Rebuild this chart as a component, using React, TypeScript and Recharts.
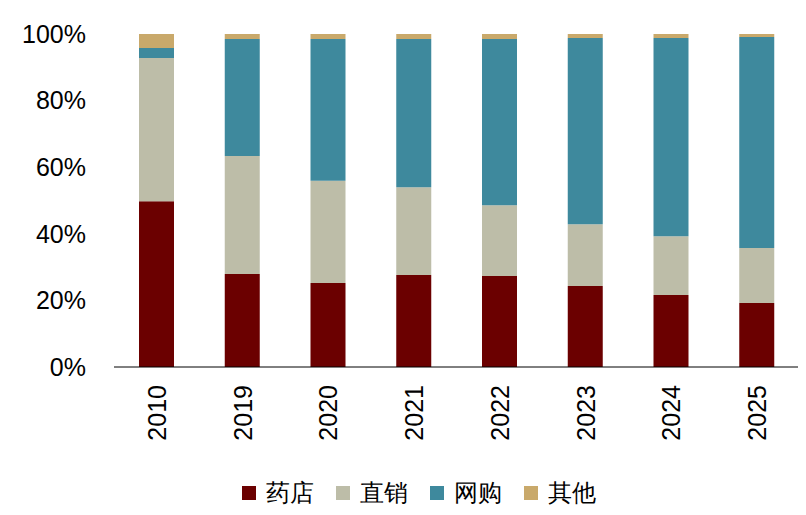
import { BarChart, Bar, XAxis, YAxis, Legend } from "recharts";

const years = ["2010", "2019", "2020", "2021", "2022", "2023", "2024", "2025"];
const pharmacy = [49.8, 27.9, 25.2, 27.6, 27.3, 24.3, 21.6, 19.2];
const direct = [43.0, 35.5, 30.7, 26.4, 21.3, 18.6, 17.7, 16.5];
const online = [3.0, 35.1, 42.6, 44.5, 49.9, 55.9, 59.5, 63.4];
const other = [4.2, 1.5, 1.5, 1.5, 1.5, 1.2, 1.2, 0.9];
const yTicks = [0, 20, 40, 60, 80, 100];

const series = [
  { key: "药店", color: "#6B0000" },
  { key: "直销", color: "#BDBDA8" },
  { key: "网购", color: "#3E899D" },
  { key: "其他", color: "#C9A96B" },
];

const data = years.map((y, i) => ({
  year: y,
  药店: pharmacy[i],
  直销: direct[i],
  网购: online[i],
  其他: other[i],
}));

const font = "'Liberation Sans', Arial, sans-serif";

const YearTick = (props: any) => {
  const { x, y, payload } = props;
  return (
    <text
      x={x}
      y={y + 10}
      transform={`rotate(-90 ${x} ${y + 10})`}
      textAnchor="end"
      dominantBaseline="central"
      fontSize={25}
      fill="#000"
      fontFamily={font}
    >
      {payload.value}
    </text>
  );
};

const renderLegend = () => (
  <div style={{ display: "flex", justifyContent: "center", paddingLeft: 60, fontFamily: font, fontSize: 24 }}>
    {series.map((s) => (
      <span key={s.key} style={{ display: "flex", alignItems: "center", marginRight: 22 }}>
        <span style={{ width: 14, height: 14, background: s.color, marginRight: 10, display: "inline-block" }} />
        {s.key}
      </span>
    ))}
  </div>
);

export default function App() {
  return (
    <div style={{ margin: -8, width: 806, height: 515, background: "#fff" }}>
      <BarChart
        width={806}
        height={515}
        data={data}
        margin={{ top: 34, right: 6, bottom: 8, left: 0 }}
        barSize={35}
      >
        <XAxis
          dataKey="year"
          tick={<YearTick />}
          tickLine={false}
          axisLine={{ stroke: "#000" }}
          height={100}
          interval={0}
        />
        <YAxis
          domain={[0, 100]}
          ticks={yTicks}
          tickFormatter={(v) => `${v}%`}
          width={114}
          tick={{ fontSize: 25, fill: "#000", fontFamily: font }}
          tickLine={false}
          axisLine={false}
          tickMargin={22}
        />
        <Legend verticalAlign="bottom" height={40} content={renderLegend} wrapperStyle={{ bottom: -2 }} />
        {series.map((s) => (
          <Bar key={s.key} dataKey={s.key} stackId="a" fill={s.color} isAnimationActive={false} />
        ))}
      </BarChart>
    </div>
  );
}
